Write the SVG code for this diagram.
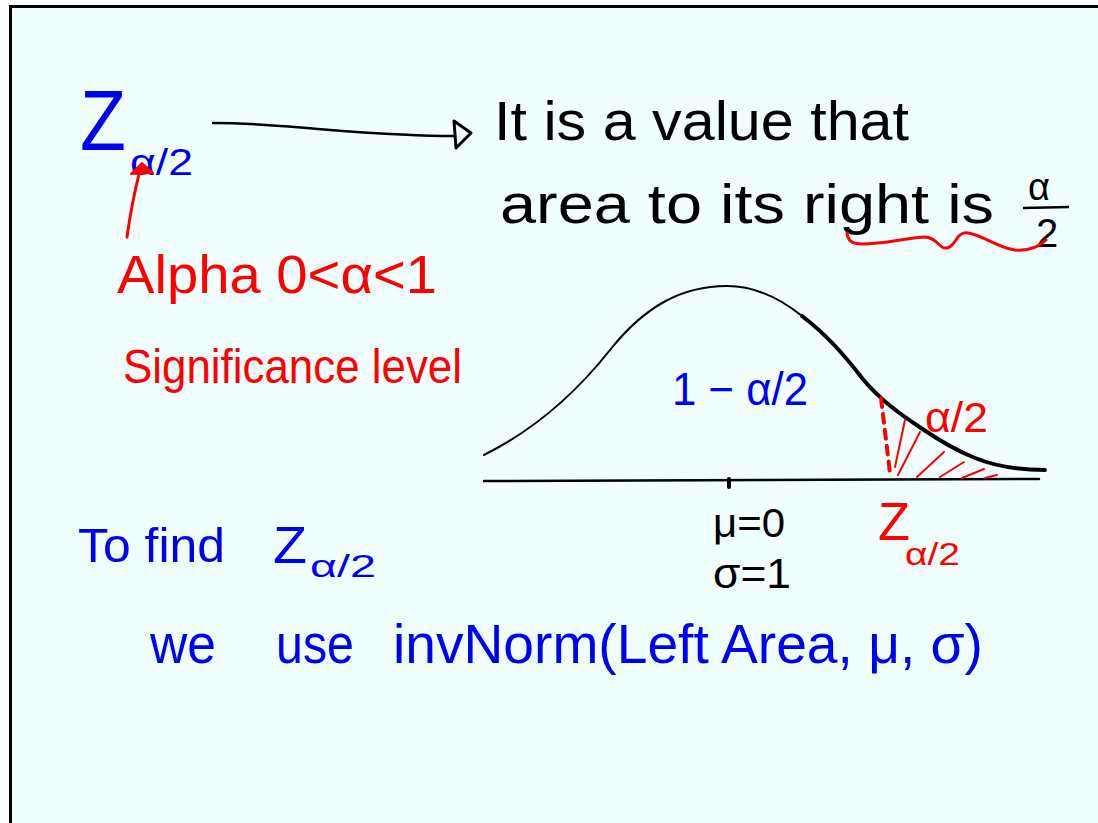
<svg xmlns="http://www.w3.org/2000/svg" width="1098" height="823" viewBox="0 0 1098 823">
<style>
.t{font-family:"Liberation Sans","DejaVu Sans",sans-serif;}
.b{fill:#0000f0;}
.r{fill:#ff0000;}
.k{fill:#000;}
.ln{fill:none;stroke-linecap:round;stroke-linejoin:round;}
</style>
<rect x="0" y="0" width="1098" height="823" fill="#ffffff"/>
<rect x="10.5" y="6.5" width="1100" height="830" fill="#f0fffe" stroke="#000" stroke-width="3"/>

<g id="z-symbol">
<text class="t b" x="80" y="150" font-size="86" textLength="46" lengthAdjust="spacingAndGlyphs">Z</text>
<text class="t b" x="130" y="175" font-size="36" textLength="63" lengthAdjust="spacingAndGlyphs">α/2</text>
</g>

<g id="definition">
<text class="t k" x="494" y="140" font-size="56" textLength="415" lengthAdjust="spacingAndGlyphs">It is a value that</text>
<text class="t k" x="500" y="223" font-size="56" textLength="494" lengthAdjust="spacingAndGlyphs">area to its right is</text>
<text class="t k" x="1039" y="200" font-size="38" text-anchor="middle">α</text>
<line x1="1023" y1="208" x2="1069" y2="207" stroke="#000" stroke-width="2.5"/>
<text class="t k" x="1047" y="247" font-size="40" text-anchor="middle">2</text>
<path class="ln" stroke="#ff0000" stroke-width="3" d="M847,233 C848,241 852,244 862,244 C885,244 905,238 925,237 C933,237 937,243 942,247 C948,250 952,246 956,240 C959,235 962,232 968,233 C985,236 998,248 1015,250 C1030,251 1040,246 1046,240"/>
</g>

<g id="alpha-note">
<text class="t r" x="117" y="293" font-size="54" textLength="320" lengthAdjust="spacingAndGlyphs">Alpha 0&lt;α&lt;1</text>
<text class="t r" x="123" y="383" font-size="48" textLength="339" lengthAdjust="spacingAndGlyphs">Significance level</text>
</g>

<g id="normal-curve">
<line class="ln" x1="484" y1="481" x2="1039" y2="479" stroke="#000" stroke-width="2.5"/>
<line class="ln" x1="729" y1="479" x2="729" y2="487" stroke="#000" stroke-width="4"/>
<path class="ln" stroke="#000" stroke-width="2" d="M484,455 C530,432 572,398 610,350 C645,306 682,286 727,286 C758,286 782,300 802,316"/>
<path class="ln" stroke="#000" stroke-width="4" d="M802,316 C828,336 845,356 862,378 C880,400 900,414 921,428 C940,441 955,450 975,458 C995,466 1015,470 1045,470"/>
<line class="ln" x1="881" y1="398" x2="890" y2="473" stroke="#ff0000" stroke-width="4" stroke-dasharray="9,7"/>
<g stroke="#ff0000" stroke-width="2" class="ln">
<line x1="905" y1="420" x2="895" y2="467"/>
<line x1="920" y1="432" x2="898" y2="475"/>
<line x1="944" y1="452" x2="917" y2="477"/>
<line x1="964" y1="462" x2="940" y2="477"/>
<line x1="984" y1="469" x2="962" y2="478"/>
<line x1="997" y1="475" x2="985" y2="478"/>
</g>
<text class="t b" x="672" y="405" font-size="46" textLength="136" lengthAdjust="spacingAndGlyphs">1 − α/2</text>
<text class="t r" x="925" y="432" font-size="42" textLength="63" lengthAdjust="spacingAndGlyphs">α/2</text>
<text class="t k" x="713" y="537" font-size="40" textLength="72" lengthAdjust="spacingAndGlyphs">μ=0</text>
<text class="t k" x="713" y="588" font-size="42" textLength="78" lengthAdjust="spacingAndGlyphs">σ=1</text>
<text class="t r" x="878" y="540" font-size="54" textLength="32" lengthAdjust="spacingAndGlyphs">Z</text>
<text class="t r" x="905" y="565" font-size="32" textLength="55" lengthAdjust="spacingAndGlyphs">α/2</text>
</g>

<g id="to-find">
<text class="t b" x="78" y="562" font-size="48" textLength="147" lengthAdjust="spacingAndGlyphs">To find</text>
<text class="t b" x="273" y="563" font-size="52" textLength="34" lengthAdjust="spacingAndGlyphs">Z</text>
<text class="t b" x="310" y="577" font-size="32" textLength="66" lengthAdjust="spacingAndGlyphs">α/2</text>
</g>

<g id="invnorm">
<text class="t b" x="150" y="663" font-size="56" textLength="66" lengthAdjust="spacingAndGlyphs">we</text>
<text class="t b" x="276" y="663" font-size="56" textLength="78" lengthAdjust="spacingAndGlyphs">use</text>
<text class="t b" x="393" y="663" font-size="56" textLength="590" lengthAdjust="spacingAndGlyphs">invNorm(Left Area, μ, σ)</text>
</g>

<g id="connectors">
<path class="ln" stroke="#000" stroke-width="2.5" d="M213,123 C260,123 290,127 330,130 C370,133 410,136 455,136"/>
<polygon class="ln" stroke="#000" stroke-width="3" points="454,121 471,133 456,148"/>
<path class="ln" stroke="#ff0000" stroke-width="3" d="M127,237 C130,215 135,190 140,170"/>
<polygon points="131,174 142,163 153,173" fill="#ff0000" stroke="#ff0000" stroke-width="2" stroke-linejoin="round"/>
</g>
</svg>
